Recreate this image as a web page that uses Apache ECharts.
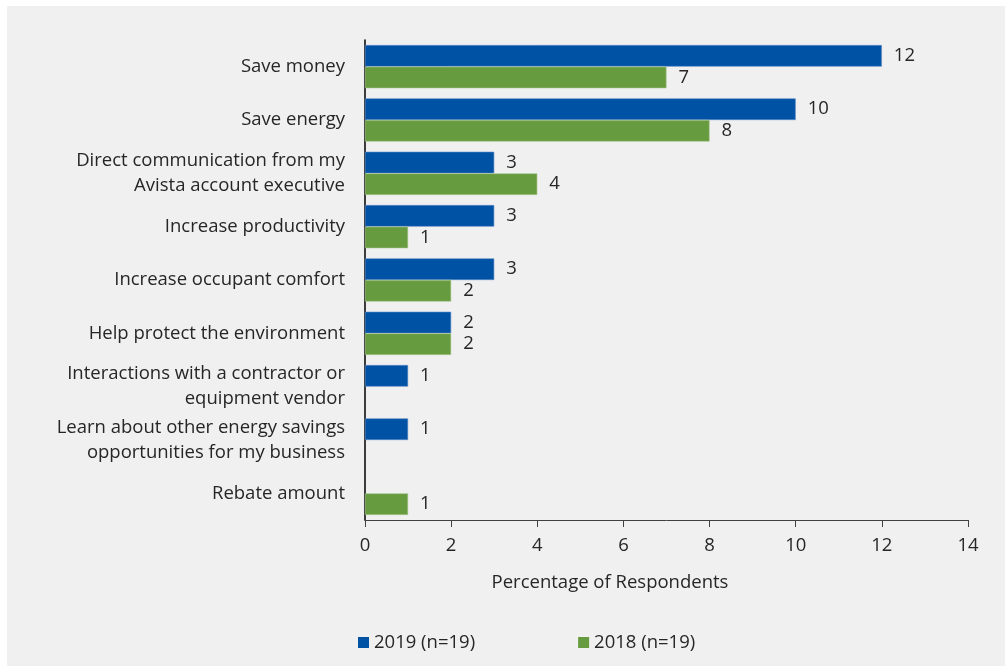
<!DOCTYPE html>
<html>
<head>
<meta charset="utf-8">
<script src="https://cdn.jsdelivr.net/npm/echarts@6/dist/echarts.min.js"></script>
<style>
  html, body { margin: 0; padding: 0; background: #ffffff; }
  #frame { position: absolute; left: 7px; top: 6px; width: 998px; height: 660px; background: #f0f0f0; }
  #chart { position: absolute; left: 0; top: 0; width: 1005px; height: 666px; }
</style>
</head>
<body>
<div id="frame"></div>
<div id="chart"></div>
<script>
const categories = [
  'Save money',
  'Save energy',
  'Direct communication from my\nAvista account executive',
  'Increase productivity',
  'Increase occupant comfort',
  'Help protect the environment',
  'Interactions with a contractor or\nequipment vendor',
  'Learn about other energy savings\nopportunities for my business',
  'Rebate amount'
];
const values2019 = [12, 10, 3, 3, 3, 2, 1, 1, null];
const values2018 = [7, 8, 4, 1, 2, 2, null, null, 1];
const xTicks = [0, 2, 4, 6, 8, 10, 12, 14];
const seriesNames = ['2019 (n=19)', '2018 (n=19)'];
const axisTitle = 'Percentage of Respondents';

const FONT = 'Open Sans';
const FS = 18.5;
const TEXT = '#262626';

const chart = echarts.init(document.getElementById('chart'), null, { renderer: 'canvas' });

const barLabel = {
  show: true,
  position: 'right',
  distance: 12,
  color: TEXT,
  fontFamily: FONT,
  fontSize: FS
};

chart.setOption({
  backgroundColor: 'transparent',
  animation: false,
  textStyle: { fontFamily: FONT },
  grid: { left: 365, right: 37, top: 40, bottom: 146, containLabel: false },
  legend: {
    left: 353,
    top: 628,
    itemWidth: 11,
    itemHeight: 11,
    itemGap: 103,
    icon: 'rect',
    itemStyle: { borderWidth: 0 },
    textStyle: { color: TEXT, fontFamily: FONT, fontSize: FS },
    data: seriesNames
  },
  graphic: [{
    type: 'text',
    x: 610,
    y: 583,
    style: {
      text: axisTitle,
      fill: TEXT,
      font: FS + 'px ' + FONT,
      textAlign: 'center',
      textVerticalAlign: 'middle'
    }
  }],
  xAxis: {
    type: 'value',
    min: xTicks[0],
    max: xTicks[xTicks.length - 1],
    interval: 2,
    splitLine: { show: false },
    axisLine: { show: true, lineStyle: { color: '#404040', width: 1 } },
    axisTick: { show: true, length: 7, lineStyle: { color: '#404040' } },
    axisLabel: { color: TEXT, fontFamily: FONT, fontSize: FS, margin: 16 }
  },
  yAxis: {
    type: 'category',
    inverse: true,
    data: categories,
    axisLine: { show: true, lineStyle: { color: '#000000', width: 1.5 } },
    axisTick: { show: false },
    axisLabel: {
      color: TEXT,
      fontFamily: FONT,
      fontSize: FS,
      lineHeight: 25,
      align: 'right',
      margin: 20
    }
  },
  series: [
    {
      name: seriesNames[0],
      type: 'bar',
      data: values2019,
      barGap: '0%',
      barCategoryGap: '19%',
      itemStyle: { color: '#0052a5', borderColor: '#5a8cc8', borderWidth: 0.6 },
      label: barLabel
    },
    {
      name: seriesNames[1],
      type: 'bar',
      data: values2018,
      barGap: '0%',
      barCategoryGap: '19%',
      itemStyle: { color: '#679b3f', borderColor: '#a6c68c', borderWidth: 0.6 },
      label: barLabel
    }
  ]
});
</script>
</body>
</html>
